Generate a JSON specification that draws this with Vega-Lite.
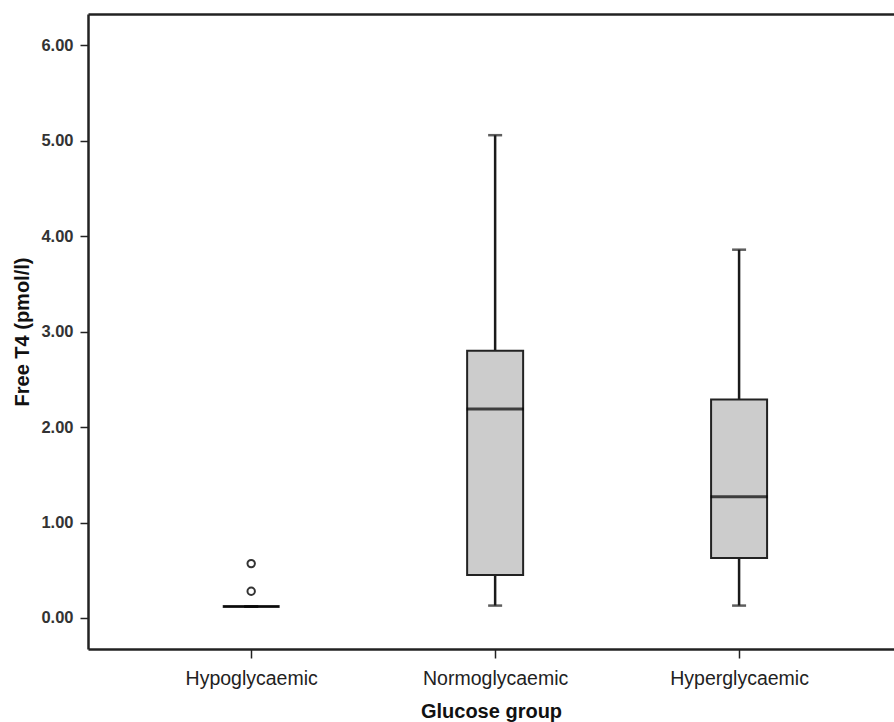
{
  "$schema": "https://vega.github.io/schema/vega-lite/v6.json",
  "autosize": "none",
  "padding": {"left": 88, "top": 14, "right": 0, "bottom": 73},
  "width": 806,
  "height": 635,
  "config": {
    "view": {"stroke": null},
    "font": "Liberation Sans",
    "axis": {"grid": false}
  },
  "datasets": {
    "boxes": [
      {"group": "Hypoglycaemic", "lower": 0.12, "q1": 0.12, "median": 0.12, "q3": 0.12, "upper": 0.12},
      {"group": "Normoglycaemic", "lower": 0.13, "q1": 0.45, "median": 2.19, "q3": 2.80, "upper": 5.06},
      {"group": "Hyperglycaemic", "lower": 0.13, "q1": 0.63, "median": 1.27, "q3": 2.29, "upper": 3.86}
    ],
    "outliers": [
      {"group": "Hypoglycaemic", "value": 0.28},
      {"group": "Hypoglycaemic", "value": 0.57}
    ]
  },
  "resolve": {"axis": {"x": "independent"}},
  "layer": [
    {
      "data": {"name": "boxes"},
      "encoding": {
        "x": {
          "field": "group", "type": "nominal", "sort": null,
          "scale": {"type": "point", "padding": 0.652, "align": 0.513},
          "axis": {
            "orient": "bottom", "title": "Glucose group", "labelAngle": 0,
            "domain": true, "domainColor": "#222", "domainWidth": 2.5,
            "tickSize": 9, "tickColor": "#222", "tickWidth": 1.5,
            "labelFontSize": 19.5, "labelColor": "#222", "labelPadding": 11,
            "titleFontSize": 20, "titleFontWeight": "bold", "titleColor": "#111", "titlePadding": 14
          }
        },
        "y": {
          "type": "quantitative",
          "scale": {"domain": [-0.325, 6.33], "nice": false, "zero": false},
          "axis": {
            "title": "Free T4 (pmol/l)", "values": [0, 1, 2, 3, 4, 5, 6], "format": ".2f",
            "domain": true, "domainColor": "#222", "domainWidth": 2.5,
            "tickSize": 8, "tickColor": "#222", "tickWidth": 1.5,
            "labelFontSize": 16.5, "labelFontWeight": "bold", "labelColor": "#333", "labelPadding": 7,
            "titleFontSize": 20, "titleFontWeight": "bold", "titleColor": "#111", "titlePadding": 8
          }
        }
      },
      "layer": [
        {
          "mark": {"type": "rule", "color": "#1a1a1a", "strokeWidth": 2.5},
          "encoding": {"y": {"field": "lower"}, "y2": {"field": "upper"}}
        },
        {
          "mark": {"type": "bar", "size": 56, "fill": "#cccccc", "stroke": "#222", "strokeWidth": 2},
          "encoding": {"y": {"field": "q1"}, "y2": {"field": "q3"}}
        },
        {
          "mark": {"type": "tick", "size": 14, "thickness": 2.5, "color": "#1a1a1a"},
          "encoding": {"y": {"field": "lower"}}
        },
        {
          "mark": {"type": "tick", "size": 14, "thickness": 2.5, "color": "#1a1a1a"},
          "encoding": {"y": {"field": "upper"}}
        },
        {
          "mark": {"type": "tick", "size": 57, "thickness": 3, "color": "#000"},
          "encoding": {"y": {"field": "median"}}
        }
      ]
    },
    {
      "data": {"name": "outliers"},
      "mark": {"type": "point", "filled": false, "stroke": "#333", "strokeWidth": 2, "size": 55, "opacity": 1},
      "encoding": {
        "x": {
          "field": "group", "type": "nominal", "sort": null,
          "axis": {"orient": "top", "title": null, "labels": false, "ticks": false, "domain": true, "domainColor": "#222", "domainWidth": 2.5}
        },
        "y": {"field": "value", "type": "quantitative"}
      }
    }
  ]
}
